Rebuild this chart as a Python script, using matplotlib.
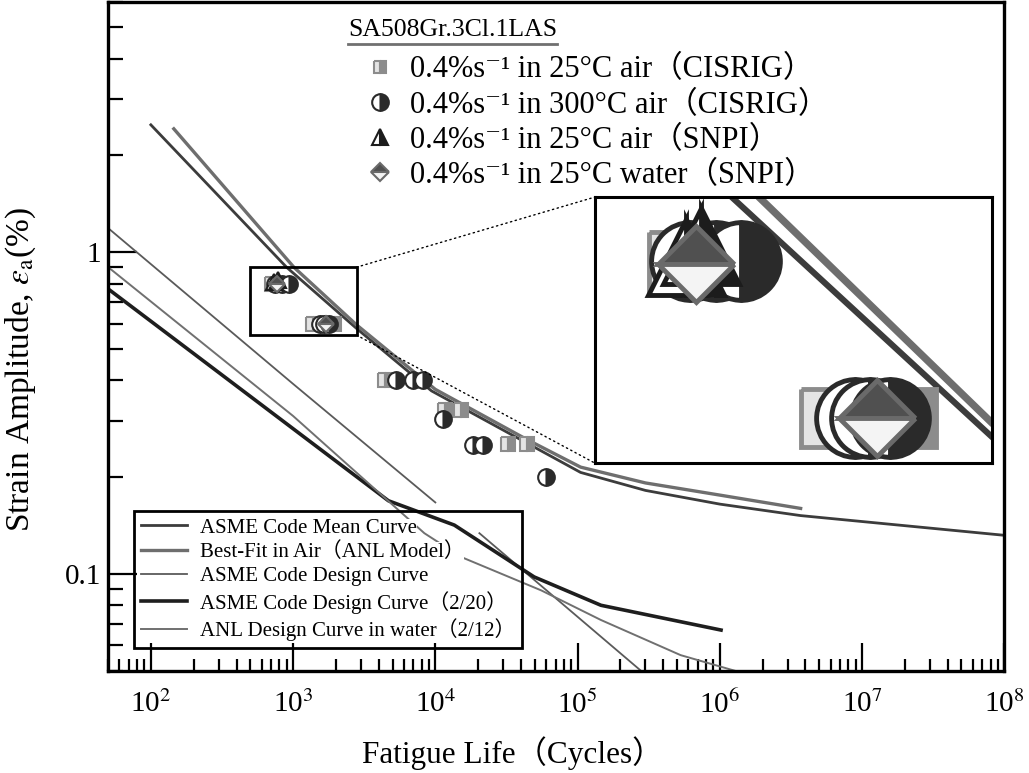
import numpy as np
import matplotlib
matplotlib.use("Agg")
from matplotlib import pyplot as plt
from matplotlib.lines import Line2D
from matplotlib.patches import Rectangle, ConnectionPatch
from matplotlib.ticker import LogLocator, FixedLocator, FuncFormatter, NullFormatter

plt.rcParams["font.family"] = ["Liberation Serif", "DejaVu Serif", "Noto Sans CJK SC"]
plt.rcParams["mathtext.fontset"] = "stix"

# test data, cycles to failure and strain amplitude (%)
sq_n = [710, 810, 1380, 1930, 4400, 11600, 15200, 32500, 44300]
sq_e = [0.80, 0.80, 0.60, 0.60, 0.40, 0.324, 0.324, 0.253, 0.253]
circ_n = [751, 838, 935, 1535, 1640, 1790, 5320, 7020, 8240, 11400, 18500, 21700, 60100]
circ_e = [0.80, 0.80, 0.80, 0.60, 0.60, 0.60, 0.40, 0.40, 0.40, 0.304, 0.251, 0.251, 0.201]
tri_n = [738, 788]
tri_e = [0.806, 0.822]
dia_n = [771, 1690]
dia_e = [0.795, 0.60]

# curves
mean_n = [100, 899, 2793, 9400, 44300, 105000, 300000, 1e6, 3.7e6, 1e8]
mean_e = [2.49, 0.899, 0.58, 0.371, 0.255, 0.207, 0.182, 0.165, 0.152, 0.132]
anl_n = [145, 1012, 2793, 10000, 44000, 105000, 300000, 1e6, 3.7e6]
anl_e = [2.42, 0.899, 0.595, 0.375, 0.262, 0.215, 0.192, 0.176, 0.160]
design_n = [50, 1000, 10000, np.nan, 20400, 280000]
design_e = [1.19, 0.39, 0.167, np.nan, 0.134, 0.05]
design220_n = [50, 4680, 13600, 49500, 146000, 1.02e6]
design220_e = [0.77, 0.169, 0.142, 0.098, 0.080, 0.067]
water_n = [50, 1000, 8370, 15200, 55500, 146000, 530000, 1.29e6]
water_e = [0.90, 0.31, 0.134, 0.113, 0.089, 0.072, 0.056, 0.05]

x_ticks = [1e2, 1e3, 1e4, 1e5, 1e6, 1e7, 1e8]
zoom_x = (495, 2793)
zoom_y = (0.553, 0.899)

fig = plt.figure(figsize=(10.29, 7.73), dpi=100)
ax = fig.add_axes([0.105, 0.132, 0.871, 0.8655])
axin = fig.add_axes([0.578, 0.401, 0.386, 0.344])

curve_styles = [
    (mean_n, mean_e, "ASME Code Mean Curve", "#3c3c3c", 2.0),
    (anl_n, anl_e, "Best-Fit in Air（ANL Model）", "#6e6e6e", 2.4),
    (design_n, design_e, "ASME Code Design Curve", "#5a5a5a", 1.3),
    (design220_n, design220_e, "ASME Code Design Curve（2/20）", "#1e1e1e", 2.6),
    (water_n, water_e, "ANL Design Curve in water（2/12）", "#707070", 1.4),
]

# (x, y, label, style, size in main plot, size in inset, size in legend)
marker_styles = [
    (sq_n, sq_e, "0.4%s⁻¹ in 25°C air（CISRIG）",
     dict(marker="s", fillstyle="left", mfc="#e4e4e4", mfcalt="#8c8c8c", mec="#8c8c8c"), 9.5, 42, 9),
    (circ_n, circ_e, "0.4%s⁻¹ in 300°C air（CISRIG）",
     dict(marker="o", fillstyle="right", mfc="#2a2a2a", mfcalt="white", mec="#2a2a2a"), 12, 56, 12),
    (tri_n, tri_e, "0.4%s⁻¹ in 25°C air（SNPI）",
     dict(marker="^", fillstyle="right", mfc="#1c1c1c", mfcalt="white", mec="#1c1c1c"), 11, 55, 12),
    (dia_n, dia_e, "0.4%s⁻¹ in 25°C water（SNPI）",
     dict(marker="D", fillstyle="top", mfc="#505050", mfcalt="#f4f4f4", mec="#6a6a6a"), 8.5, 39, 9.5),
]

curve_handles = []
for n, e, label, color, lw in curve_styles:
    (h,) = ax.plot(n, e, color=color, lw=lw, label=label, zorder=2)
    curve_handles.append(h)
    axin.plot(n, e, color=color, lw=lw * 2.2, zorder=2)

marker_handles = []
for n, e, label, style, ms_main, ms_inset, ms_leg in marker_styles:
    ax.plot(n, e, ls="none", ms=ms_main, mew=1.5, label=label, zorder=3, **style)
    axin.plot(n, e, ls="none", ms=ms_inset, mew=3.5, zorder=3, **style)
    marker_handles.append(Line2D([], [], ls="none", ms=ms_leg, mew=1.5, **style))

ax.set_xscale("log")
ax.set_yscale("log")
ax.set_xlim(50, 1e8)
ax.set_ylim(0.05, 6)

ax.xaxis.set_major_locator(FixedLocator(x_ticks))
ax.xaxis.set_minor_locator(LogLocator(base=10, subs=np.arange(2, 10), numticks=50))
ax.xaxis.set_major_formatter(FuncFormatter(lambda v, p: "10$^{%d}$" % round(np.log10(v))))
ax.xaxis.set_minor_formatter(NullFormatter())
ax.yaxis.set_major_locator(FixedLocator([0.1, 1]))
ax.yaxis.set_major_formatter(FuncFormatter(lambda v, p: "1" if v >= 1 else "0.1"))
ax.yaxis.set_minor_locator(LogLocator(base=10, subs=np.arange(2, 10), numticks=50))
ax.yaxis.set_minor_formatter(NullFormatter())

ax.tick_params(which="both", direction="in", top=False, right=False, width=1.6, labelsize=21)
ax.tick_params(axis="x", which="major", length=20, pad=14)
ax.tick_params(axis="x", which="minor", length=9)
ax.tick_params(axis="y", which="major", length=21, pad=5)
ax.tick_params(axis="y", which="minor", length=11)
for s in ax.spines.values():
    s.set_linewidth(2.4)

ax.set_xlabel("Fatigue Life（Cycles）", fontsize=22.5)
ax.xaxis.set_label_coords(0.451, -0.097)
ax.set_ylabel("Strain Amplitude, $\\varepsilon_{\\mathrm{a}}$(%)", fontsize=24)
ax.yaxis.set_label_coords(-0.078, 0.45)

# zoom window and inset
ax.add_patch(Rectangle((zoom_x[0], zoom_y[0]), zoom_x[1] - zoom_x[0], zoom_y[1] - zoom_y[0],
                       fill=False, ec="black", lw=2, zorder=5))
axin.set_xscale("log")
axin.set_yscale("log")
axin.set_xlim(*zoom_x)
axin.set_ylim(*zoom_y)
axin.set_xticks([])
axin.set_yticks([])
axin.minorticks_off()
for s in axin.spines.values():
    s.set_linewidth(2.2)
for xyA, xyB in [((zoom_x[1], zoom_y[1]), (0, 1)), ((zoom_x[1], zoom_y[0]), (0, 0))]:
    con = ConnectionPatch(xyA=xyA, coordsA=ax.transData, xyB=xyB, coordsB=axin.transAxes,
                          ls=(0, (1, 2.5)), lw=1, color="black")
    fig.add_artist(con)

# marker legend
leg1 = ax.legend(marker_handles, [m[2] for m in marker_styles], loc="upper left",
                 bbox_to_anchor=(0.286, 0.92), frameon=False, fontsize=22,
                 handlelength=1.0, handletextpad=0.5, labelspacing=0.2, borderpad=0,
                 borderaxespad=0)
ax.add_artist(leg1)
title = ax.text(0.268, 0.958, "SA508Gr.3Cl.1LAS", transform=ax.transAxes, fontsize=18.5,
                ha="left", va="center")

# curve legend
leg2 = ax.legend(curve_handles, [c[2] for c in curve_styles], loc="lower left",
                 bbox_to_anchor=(0.029, 0.034), fontsize=15, handlelength=2.2,
                 handletextpad=0.6, labelspacing=0.22, borderpad=0.35, borderaxespad=0,
                 fancybox=False, edgecolor="black", facecolor="none", framealpha=1)
leg2.get_frame().set_linewidth(2)
for t in leg2.get_texts():
    t.set_bbox(dict(facecolor="white", edgecolor="none", pad=0))

fig.canvas.draw()
bb = title.get_window_extent()
fig.add_artist(Line2D([bb.x0, bb.x1], [bb.y0 - 3, bb.y0 - 3], transform=None,
                      color="#707070", lw=2))

fig.savefig("out.png", dpi=100)
